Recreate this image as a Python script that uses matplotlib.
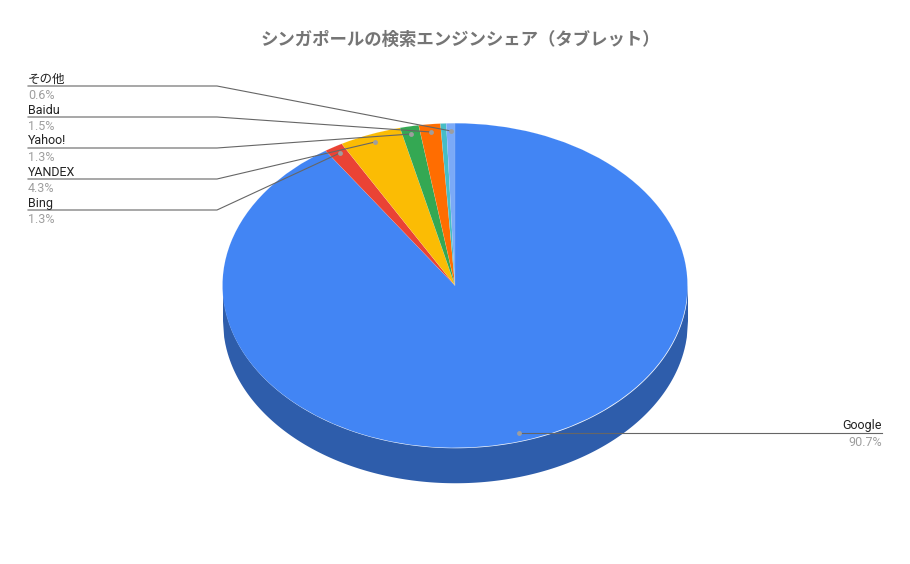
import matplotlib
matplotlib.use('Agg')
import matplotlib.pyplot as plt
import numpy as np

plt.rcParams['font.family'] = ['Roboto', 'Noto Sans CJK JP', 'DejaVu Sans']

# clockwise from 12 o'clock
slices = ['Google', 'Bing', 'YANDEX', 'Yahoo!', 'Baidu', '', 'その他']
shares = [90.6, 1.3, 4.3, 1.3, 1.5, 0.4, 0.6]
shown_pct = ['90.7%', '1.3%', '4.3%', '1.3%', '1.5%', '', '0.6%']
colors = ['#4285f4', '#ea4335', '#fbbc04', '#34a853', '#ff6d01', '#46bdc6', '#7baaf7']
side_color = '#2e5dab'

W, H = 910, 564
cx, cy, rx, ry, depth = 455, 285.5, 232.5, 162.25, 35

fig = plt.figure(figsize=(W / 100, H / 100), dpi=100)

# pie squashed into an ellipse, thickness drawn underneath
ax = fig.add_axes([(cx - rx) / W, (H - cy - ry) / H, 2 * rx / W, 2 * ry / H])
xs = np.linspace(-1, 1, 400)
rim = -np.sqrt(1 - xs ** 2)
ax.fill_between(xs, rim, rim - depth / ry, color=side_color, lw=0, clip_on=False)
ax.pie(shares, colors=colors, startangle=90, counterclock=False, radius=1,
       wedgeprops={'linewidth': 0.2, 'edgecolor': '#ffffff44'})
ax.set_aspect('auto')
ax.set_xlim(-1, 1)
ax.set_ylim(-1, 1)
ax.axis('off')

# overlay in pixel coordinates for the leader lines and text
ov = fig.add_axes([0, 0, 1, 1])
ov.set_xlim(0, W)
ov.set_ylim(H, 0)
ov.axis('off')
ov.patch.set_alpha(0)

fig.text(460 / W, 1 - 39.5 / H, 'シンガポールの検索エンジンシェア（タブレット）', ha='center', va='center',
         fontsize=12.55, fontweight='bold', color='#757575',
         family=['Noto Sans CJK JP', 'DejaVu Sans'])

line_color = '#666666'
dot_color = '#9e9e9e'
name_color = '#222222'
pct_color = '#9e9e9e'
fs = 9

left_rows = [(6, 86, 451, 131), (4, 117, 431, 132), (3, 148, 411, 134),
             (2, 179, 375, 142), (1, 210, 340, 153)]
for i, y, dx, dy in left_rows:
    ov.plot([28, 217, dx], [y, y, dy], color=line_color, lw=0.8, solid_joinstyle='round')
    ov.plot(dx, dy, 'o', ms=3.5, color=dot_color, mew=0)
    ov.text(28, y - 0.5, slices[i], ha='left', va='bottom', fontsize=fs, color=name_color)
    ov.text(28, y + 3, shown_pct[i], ha='left', va='top', fontsize=fs, color=pct_color)

ov.plot([882, 519], [433, 433], color=line_color, lw=0.8)
ov.plot(519, 433, 'o', ms=3.5, color=dot_color, mew=0)
ov.text(882, 432.5, slices[0], ha='right', va='bottom', fontsize=fs, color=name_color)
ov.text(882, 436, shown_pct[0], ha='right', va='top', fontsize=fs, color=pct_color)

fig.savefig('out.png', dpi=100)
